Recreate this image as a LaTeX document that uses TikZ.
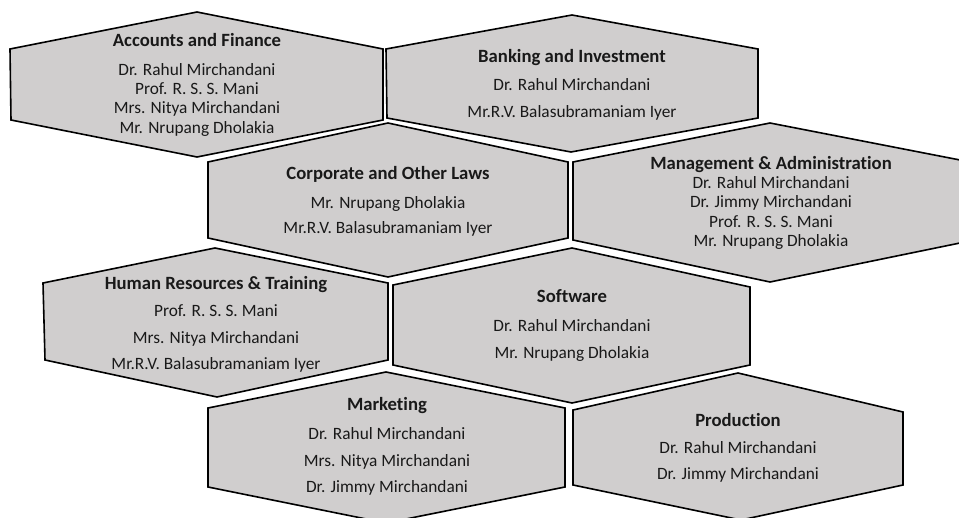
\documentclass[tikz,border=0pt]{standalone}
\usepackage{fontspec}
\setmainfont[Ligatures=NoCommon]{Carlito}
\definecolor{cellgray}{RGB}{208,206,206}
\newcommand{\cellhead}[1]{{\bfseries\fontsize{18.7}{19}\selectfont #1}}

\begin{document}
\begin{tikzpicture}[x=1pt, y=-1pt, line width=1.6pt,
    cell/.style = {draw=black, fill=cellgray, line join=miter},
    team/.style = {align=center, anchor=base, inner sep=0pt, text=black!90, font=\fontsize{17.3}{26.7}\selectfont},
    tight/.style = {team, font=\fontsize{17.3}{19.4}\selectfont}]
    \useasboundingbox (0,0) rectangle (959,518);

    \draw[cell] (197,12) -- (383,49) -- (383,120) -- (197,157) -- (11,120) -- (10,49) -- cycle;
    \draw[cell] (572,15) -- (758,49) -- (758,118) -- (571,152) -- (387,118) -- (386,49) -- cycle;
    \draw[cell] (388,123) -- (568,162) -- (568,238) -- (388,277) -- (208,238) -- (208,162) -- cycle;
    \draw[cell] (770,123) -- (960,160) -- (960,243) -- (770,282) -- (573,240) -- (573,162) -- cycle;
    \draw[cell] (215,248) -- (388,283) -- (388,360) -- (217,397) -- (45,360) -- (43,283) -- cycle;
    \draw[cell] (572,248) -- (750,287) -- (750,365) -- (572,403) -- (393,365) -- (393,285) -- cycle;
    \draw[cell] (386,372) -- (565,408) -- (565,487) -- (386,523) -- (208,487) -- (208,408) -- cycle;
    \draw[cell] (738,373) -- (903,412) -- (903,485) -- (741,520) -- (573,485) -- (573,410) -- cycle;

    \node[tight] (acc) at (197,133.3) {\cellhead{Accounts and Finance}\\[9pt]
        Dr. Rahul Mirchandani\\ Prof. R. S. S. Mani\\ Mrs. Nitya Mirchandani\\ Mr. Nrupang Dholakia};
    \node[team] (bank) at (572,117.3) {\cellhead{Banking and Investment}\\[1pt]
        Dr. Rahul Mirchandani\\ Mr.R.V. Balasubramaniam Iyer};
    \node[team, font=\fontsize{17.3}{25}\selectfont] (corp) at (388,233.3) {\cellhead{Corporate and Other Laws}\\[4pt]
        Mr. Nrupang Dholakia\\ Mr.R.V. Balasubramaniam Iyer};
    \node[tight] (mgmt) at (771,246.7) {\cellhead{Management \& Administration}\\
        Dr. Rahul Mirchandani\\ Dr. Jimmy Mirchandani\\ Prof. R. S. S. Mani\\ Mr. Nrupang Dholakia};
    \node[team] (hr) at (216,370) {\cellhead{Human Resources \& Training}\\
        Prof. R. S. S. Mani\\ Mrs. Nitya Mirchandani\\ Mr.R.V. Balasubramaniam Iyer};
    \node[team] (soft) at (572,358.3) {\cellhead{Software}\\[2pt]
        Dr. Rahul Mirchandani\\ Mr. Nrupang Dholakia};
    \node[team] (mkt) at (387,492.7) {\cellhead{Marketing}\\[2pt]
        Dr. Rahul Mirchandani\\ Mrs. Nitya Mirchandani\\ Dr. Jimmy Mirchandani};
    \node[team] (prod) at (738,480) {\cellhead{Production}\\
        Dr. Rahul Mirchandani\\ Dr. Jimmy Mirchandani};
\end{tikzpicture}
\end{document}
